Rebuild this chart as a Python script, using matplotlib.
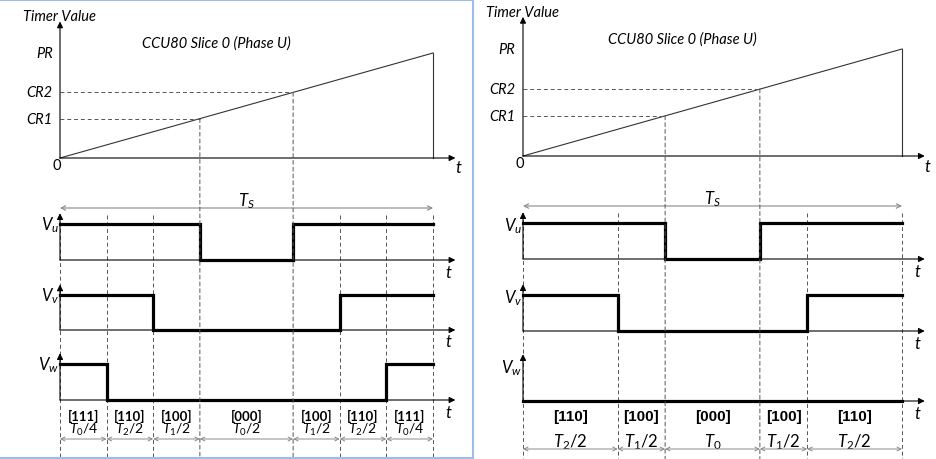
import numpy as np
import matplotlib
matplotlib.use('Agg')
import matplotlib.pyplot as plt
from matplotlib.lines import Line2D
from matplotlib.patches import ConnectionPatch

# fonts: Calibri-like for the timer part, Arial-like for the right-hand labels
plt.rcParams['font.family'] = ['Lato', 'DejaVu Sans']
plt.rcParams['mathtext.fontset'] = 'custom'
plt.rcParams['mathtext.rm'] = 'Lato'
plt.rcParams['mathtext.it'] = 'Lato:italic'
plt.rcParams['mathtext.bf'] = 'Lato:bold'

# ---- data ----
PR = 1.0
CR1 = 0.375
CR2 = 0.625

# left: 7-segment symmetric SVPWM sequence
left_states = ['111', '110', '100', '000', '100', '110', '111']
left_widths = [1, 1, 1, 2, 1, 1, 1]
left_dur_labels = [r'$T_0/4$', r'$T_2/2$', r'$T_1/2$', r'$T_0/2$',
                   r'$T_1/2$', r'$T_2/2$', r'$T_0/4$']

# right: 5-segment sequence
right_states = ['110', '100', '000', '100', '110']
right_widths = [2, 1, 2, 1, 2]
right_dur_labels = [r'$T_2/2$', r'$T_1/2$', r'$T_0$', r'$T_1/2$', r'$T_2/2$']

phase_names = [r'$V_u$', r'$V_v$', r'$V_w$']

W, H = 936, 460
fig = plt.figure(figsize=(W / 100, H / 100), dpi=100)


def px_axes(x0, x1, ybot, ytop, xlim, ylim):
    ax = fig.add_axes([x0 / W, 1 - ybot / H, (x1 - x0) / W, (ybot - ytop) / H])
    ax.set_xlim(*xlim)
    ax.set_ylim(*ylim)
    ax.set_axis_off()
    return ax


def axis_arrow(ax, xy, xytext):
    ax.annotate('', xy=xy, xytext=xytext, annotation_clip=False,
                arrowprops=dict(arrowstyle='-|>', color='black', lw=0.8,
                                mutation_scale=9, shrinkA=0, shrinkB=0))


def draw_panel(states, widths, dur_labels, lay):
    x0, x1 = lay['x0'], lay['x1']
    Ts = sum(widths)
    edges = np.concatenate([[0], np.cumsum(widths)])
    dash = dict(color='#555555', lw=0.7, linestyle=(0, (4, 3)))

    # timer ramp
    ramp = px_axes(x0, x1, lay['ramp_base'], lay['ramp_pr'], (0, Ts), (0, PR))
    ramp.plot([0, Ts], [0, PR], color='#333333', lw=0.8, clip_on=False)
    ramp.plot([Ts, Ts], [PR, 0], color='#333333', lw=0.8, clip_on=False)
    axis_arrow(ramp, (Ts * 1.06, 0), (0, 0))
    axis_arrow(ramp, (0, PR * 1.3), (0, 0))
    ramp.text(0, PR * 1.35, 'Timer Value', style='italic', fontsize=10.5,
              ha='center', va='center')
    ramp.text(Ts * 0.42, PR * 1.1, 'CCU80 Slice 0 (Phase U)', style='italic',
              fontsize=10.5, ha='center', va='center')
    ramp.text(-Ts * 0.02, PR, 'PR', style='italic', fontsize=10.5, ha='right', va='center')
    ramp.text(-Ts * 0.009, -0.07, '0', fontsize=10.5, ha='center', va='center')
    ramp.text(Ts * 1.067, -0.09, 't', style='italic', fontsize=12, ha='center', va='center')

    ov = px_axes(x0, x1, H, 0, (0, Ts), (H, 0))
    cr_times = []
    for name, cr in (('CR1', CR1), ('CR2', CR2)):
        tc = cr / PR * Ts
        cr_times.append(tc)
        ramp.plot([0, tc], [cr, cr], clip_on=False, **dash)
        ramp.text(-Ts * 0.02, cr, name, style='italic', fontsize=10.5,
                  ha='right', va='center')
        cp = ConnectionPatch(xyA=(tc, cr), coordsA=ramp.transData,
                             xyB=(tc, lay['bottom']), coordsB=ov.transData, **dash)
        fig.add_artist(cp)

    for e in edges:
        if any(abs(e - tc) < 1e-9 for tc in cr_times):
            continue
        ov.plot([e, e], [lay['dash_top'], lay['bottom']], clip_on=False, **dash)

    # Ts span
    ov.annotate('', xy=(Ts, lay['ts_y']), xytext=(0, lay['ts_y']), annotation_clip=False,
                arrowprops=dict(arrowstyle='<->', color='#8a8a8a', lw=0.8,
                                mutation_scale=8, shrinkA=0, shrinkB=0))
    ov.text(Ts / 2, lay['ts_y'] - 8, r'$T_S$', fontsize=12, ha='center', va='center')

    # phase waveforms
    for i, name in enumerate(phase_names):
        base, high = lay['rows'][i]
        ax = px_axes(x0, x1, base, high, (0, Ts), (0, 1))
        levels = [int(s[i]) for s in states]
        ax.step(edges, levels + [levels[-1]], where='post', color='black', lw=2.3,
                solid_joinstyle='miter', clip_on=False, zorder=3)
        axis_arrow(ax, (Ts * 1.06, 0), (0, 0))
        axis_arrow(ax, (0, 1.3), (0, 0))
        ax.text(-Ts * 0.003, 1.0 - lay['vlab_drop'][i], name, fontsize=12,
                ha='right', va='center')
        ax.text(Ts * 1.04, -0.32, 't', style='italic', fontsize=12,
                ha='center', va='center')

    # switching states and durations
    for j, s in enumerate(states):
        mid = (edges[j] + edges[j + 1]) / 2
        ov.text(mid, lay['state_y'], '[' + s + ']', fontsize=lay['state_size'],
                fontweight='bold', family=lay['state_font'], ha='center', va='center')
        ov.text(mid, lay['dur_y'], dur_labels[j], fontsize=lay['dur_size'],
                ha='center', va='center')
        ov.annotate('', xy=(edges[j + 1], lay['dur_arrow_y']),
                    xytext=(edges[j], lay['dur_arrow_y']), annotation_clip=False,
                    arrowprops=dict(arrowstyle='<->', color='#8a8a8a', lw=0.7,
                                    mutation_scale=7, shrinkA=0, shrinkB=0))


left_layout = dict(x0=60, x1=433, ramp_base=159, ramp_pr=54,
                   rows=[(261, 225), (331, 296), (401, 365)],
                   vlab_drop=[0, 0, 0],
                   ts_y=209, dash_top=216, bottom=458,
                   state_y=416, dur_y=430, dur_arrow_y=440,
                   state_size=9.5, dur_size=10,
                   state_font=['Lato', 'DejaVu Sans'])
right_layout = dict(x0=523, x1=902, ramp_base=157, ramp_pr=50,
                    rows=[(260, 224), (332, 296), (402, 366)],
                    vlab_drop=[0.05, 0.05, 0.05],
                    ts_y=207, dash_top=214, bottom=460,
                    state_y=417, dur_y=442, dur_arrow_y=450,
                    state_size=11, dur_size=12,
                    state_font=['Liberation Sans', 'DejaVu Sans'])

draw_panel(left_states, left_widths, left_dur_labels, left_layout)
draw_panel(right_states, right_widths, right_dur_labels, right_layout)

# window border around the left screenshot
border = '#9dbde8'
fig.add_artist(Line2D([0, 473 / W], [1 - 1 / H, 1 - 1 / H], color=border, lw=1.5))
fig.add_artist(Line2D([473 / W, 473 / W], [0, 1], color=border, lw=1.5))
fig.add_artist(Line2D([0, 473 / W], [1 / H, 1 / H], color=border, lw=1.5))

fig.savefig('out.png', dpi=100)
